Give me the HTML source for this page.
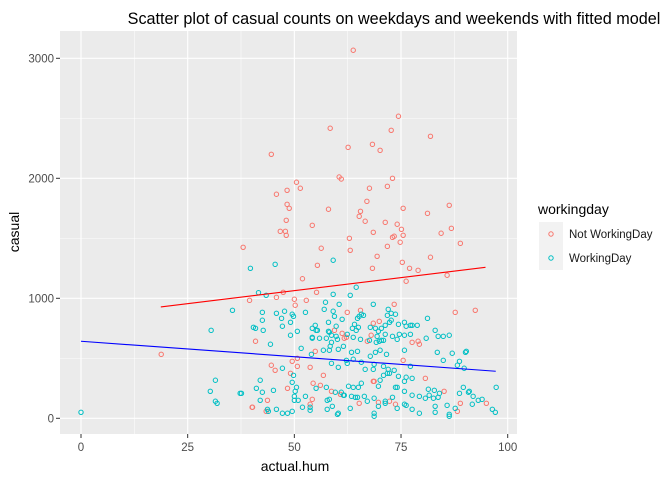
<!DOCTYPE html>
<html><head><meta charset="utf-8"><style>
body{margin:0;background:#fff;}
svg text{font-family:"Liberation Sans",Arial,sans-serif;}
</style></head><body>
<svg id="chart" width="672" height="480" xmlns="http://www.w3.org/2000/svg">
<rect width="672" height="480" fill="#fff"/>
<text x="394" y="24" font-size="16.2" text-anchor="middle" fill="#000">Scatter plot of casual counts on weekdays and weekends with fitted model</text>
<rect x="60" y="31" width="457" height="403" fill="#ebebeb"/>
<g id="grid"></g>
<g id="axes"></g>
<g id="marks"></g>
<text x="295" y="471" font-size="14" text-anchor="middle">actual.hum</text>
<text transform="translate(19,232) rotate(-90)" font-size="14" text-anchor="middle">casual</text>
<g>
<text x="538" y="214" font-size="14">workingday</text>
<rect x="539" y="222" width="24" height="24" fill="#f2f2f2"/>
<rect x="539" y="246" width="24" height="24" fill="#f2f2f2"/>
<circle cx="551" cy="234" r="2.2" fill="none" stroke="#F8766D" stroke-width="1"/>
<circle cx="551" cy="258" r="2.2" fill="none" stroke="#00BFC4" stroke-width="1"/>
<text x="569" y="238" font-size="11.5" fill="#1a1a1a">Not WorkingDay</text>
<text x="569" y="262" font-size="11.5" fill="#1a1a1a">WorkingDay</text>
</g>
</svg>
<script>
const xTicks=[0,25,50,75,100];
const yTicks=[0,1000,2000,3000];
const redHum=[63.8,74.4,58.4,72.7,81.9,44.6,62.6,68.3,70.1,60.5,61.0,73.0,50.5,51.4,48.3,45.8,67.6,71.8,67.0,48.3,48.8,58.0,65.5,65.2,66.6,75.5,81.2,86.3,48.1,54.2,46.7,47.9,48.1,71.3,74.1,75.1,75.5,73.4,73.0,68.5,74.8,62.9,84.4,86.8,88.9,38.0,56.3,63.1,71.8,69.4,81.9,75.3,55.4,68.3,77.0,79.0,85.8,51.9,18.8,40.1,
55.2,47.4,45.8,39.5,50.0,50.2,52.8,76.2,73.4,65.5,62.4,68.5,69.9,87.7,92.4,40.9,61.2,61.7,62.2,59.4,67.1,68.0,77.6,79.0,79.3,54.9,49.5,50.7,50.7,44.6,45.5,49.1,53.7,56.8,54.4,56.1,48.4,68.5,68.7,75.5,80.7,85.1,58.7,60.8,43.7,43.4,40.2,54.2,53.7,65.2,69.7,72.3,73.7,88.9,95.0,88.2];
const redCasual=[3067,2517,2417,2400,2350,2200,2258,2283,2233,2011,1994,2000,1967,1917,1900,1867,1917,1933,1808,1783,1750,1742,1725,1683,1642,1750,1708,1775,1650,1608,1558,1558,1525,1633,1617,1575,1525,1517,1508,1550,1467,1500,1542,1583,1458,1425,1417,1400,1433,1350,1342,1300,1275,1250,1250,1233,1192,1163,533,92,
1050,1050,1008,983,992,942,983,1142,950,900,883,792,808,883,900,642,708,667,675,733,642,692,633,642,617,558,475,500,433,442,400,375,425,358,292,275,250,308,308,483,333,225,225,200,150,58,92,158,117,125,133,142,117,125,125,58];
const cyanHum=[39.7,45.5,59.1,35.5,30.5,31.5,30.3,31.5,31.9,0,37.3,
41.6,43.4,64.5,59.1,63.1,42.5,42.5,45.8,47.7,47.0,49.5,49.8,52.6,49.1,47.2,40.4,40.9,42.7,50.7,49.1,44.4,51.6,54.0,
57.3,57.0,60.5,59.1,59.4,61.2,58.0,59.8,54.9,54.2,55.1,55.4,58.0,58.2,54.2,54.2,55.9,57.5,58.7,58.7,59.8,60.1,58.4,56.8,58.2,60.3,61.5,62.4,63.8,63.6,64.5,65.0,64.1,64.8,65.2,65.7,66.2,68.5,65.5,67.6,67.8,69.0,69.7,70.4,71.3,72.0,71.8,72.7,73.7,72.7,72.3,71.3,69.4,69.2,69.9,70.4,70.9,73.0,74.1,74.6,75.8,74.4,75.8,76.2,77.2,77.6,78.8,77.2,81.2,80.9,83.0,83.7,84.9,86.3,75.8,69.0,70.1,71.6,63.4,64.8,83.5,87.0,90.1,90.3,
62.2,62.4,63.8,65.7,67.8,58.7,60.3,68.7,70.9,72.0,72.3,71.8,66.6,68.5,73.4,74.4,75.8,76.2,77.6,77.2,84.9,88.7,88.2,89.8,47.2,42.0,41.1,42.5,45.1,37.6,49.5,49.8,50.5,50.2,50.0,50.0,50.9,52.6,55.1,57.5,59.6,61.0,61.5,61.7,62.7,63.8,65.0,65.7,63.4,64.3,64.8,66.4,67.1,68.7,69.7,70.1,70.9,73.0,71.3,73.7,74.1,75.8,77.6,79.3,80.7,81.4,81.6,82.8,82.6,84.0,83.7,88.7,89.6,90.8,91.0,91.9,93.1,94.0,97.3,91.7,96.4,97.1,
43.7,43.9,45.8,47.2,48.4,49.5,51.9,53.7,53.7,57.7,58.2,57.7,58.9,60.1,60.3,63.1,68.7,68.7,69.7,71.3,74.1,75.8,76.2,77.6,79.3,83.0,83.0,85.8,86.3,86.3,87.7,42.0];
const cyanCasual=[1250,1283,1317,900,733,317,225,142,125,50,208,
1047,1025,1092,1033,1025,883,817,875,892,833,867,850,883,800,767,758,750,733,725,692,617,583,533,
967,908,950,892,850,825,800,767,775,750,733,733,725,717,675,667,667,667,692,633,683,658,600,567,567,575,600,700,675,750,733,758,783,833,850,867,858,950,658,650,758,750,725,750,775,908,858,875,867,817,800,700,683,633,642,650,650,683,658,700,692,783,800,767,775,775,775,700,833,667,733,683,683,692,567,550,567,533,550,558,550,542,550,558,
483,458,492,467,517,458,425,450,433,408,375,375,408,408,400,350,308,342,333,433,483,475,442,417,417,317,250,217,233,208,300,358,258,225,183,150,150,183,250,258,217,217,192,192,267,258,258,292,183,175,175,183,142,167,267,317,358,175,125,258,258,225,192,183,167,242,192,233,167,208,175,208,258,217,225,183,150,158,258,117,75,50,
75,58,75,42,42,58,92,92,67,150,158,75,100,33,42,83,42,17,100,142,83,117,108,75,42,100,50,108,33,17,83,150];
const fitRedHum=[18.7,94.8];
const fitRedCasual=[928,1258];
const fitBlueHum=[0,97.2];
const fitBlueCasual=[642,392];

const X0=60,X1=517,Y0=31,Y1=434;
const sx=v=>81+v*4.267;
const sy=v=>418.3-v*0.12;
const NS="http://www.w3.org/2000/svg";
function mk(tag,attrs,parent){const e=document.createElementNS(NS,tag);for(const k in attrs)e.setAttribute(k,attrs[k]);parent.appendChild(e);return e;}
const grid=document.getElementById('grid'),axes=document.getElementById('axes'),marks=document.getElementById('marks');
for(let i=0;i<xTicks.length-1;i++){const v=(xTicks[i]+xTicks[i+1])/2;
 const l=mk('line',{x1:sx(v),x2:sx(v),y1:Y0,y2:Y1,stroke:'#fff','stroke-width':0.5},grid);
 
 }
for(let i=0;i<yTicks.length-1;i++){const v=(yTicks[i]+yTicks[i+1])/2;
 const l=mk('line',{x1:X0,x2:X1,y1:sy(v),y2:sy(v),stroke:'#fff','stroke-width':0.5},grid);
 
 }
xTicks.forEach(v=>{
 const l=mk('line',{x1:sx(v),x2:sx(v),y1:Y0,y2:Y1,stroke:'#fff','stroke-width':1.1},grid);
 
 
 mk('line',{x1:sx(v),x2:sx(v),y1:Y1,y2:Y1+4,stroke:'#333','stroke-width':1},axes);
 const t=mk('text',{x:sx(v),y:Y1+17,'font-size':11.5,'text-anchor':'middle',fill:'#4d4d4d'},axes);
 t.textContent=v;
 
 });
yTicks.forEach(v=>{
 const l=mk('line',{x1:X0,x2:X1,y1:sy(v),y2:sy(v),stroke:'#fff','stroke-width':1.1},grid);
 
 
 mk('line',{x1:X0-4,x2:X0,y1:sy(v),y2:sy(v),stroke:'#333','stroke-width':1},axes);
 const t=mk('text',{x:X0-6,y:sy(v)+4,'font-size':11.5,'text-anchor':'end',fill:'#4d4d4d'},axes);
 t.textContent=v;
 
 });
function pts(h,c,col,name){for(let i=0;i<h.length;i++){
 const e=mk('circle',{cx:sx(h[i]),cy:sy(c[i]),r:2.2,fill:'none',stroke:col,'stroke-width':1},marks);
 
 }}
pts(redHum,redCasual,'#F8766D','point-not-workingday');
pts(cyanHum,cyanCasual,'#00BFC4','point-workingday');
const lr=mk('line',{x1:sx(fitRedHum[0]),y1:sy(fitRedCasual[0]),x2:sx(fitRedHum[1]),y2:sy(fitRedCasual[1]),stroke:'#ff0000','stroke-width':1.1},marks);


const lb=mk('line',{x1:sx(fitBlueHum[0]),y1:sy(fitBlueCasual[0]),x2:sx(fitBlueHum[1]),y2:sy(fitBlueCasual[1]),stroke:'#0000ff','stroke-width':1.1},marks);


</script>
</body></html>
